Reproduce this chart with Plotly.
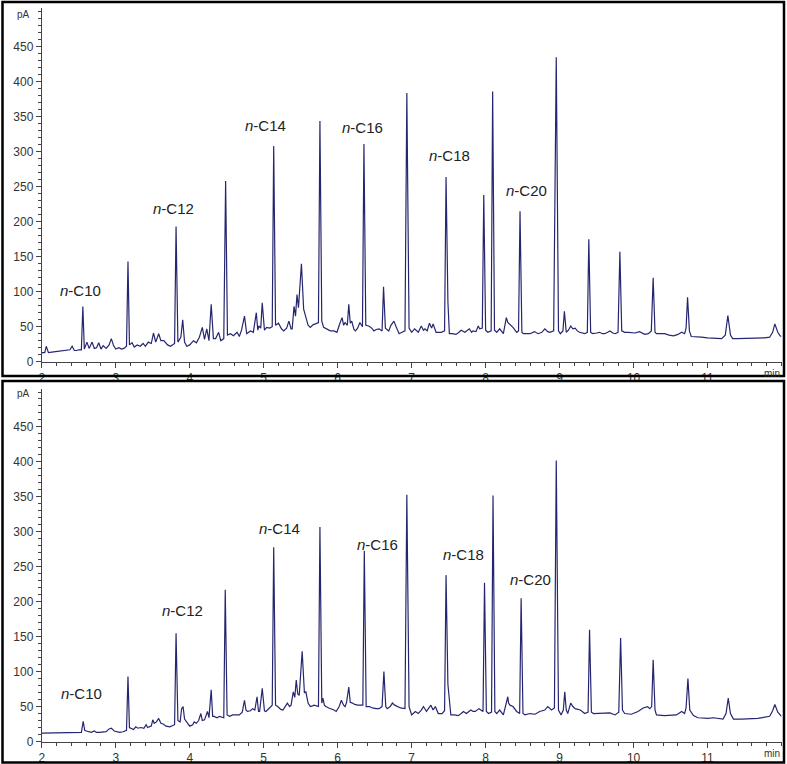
import plotly.graph_objects as go
from plotly.subplots import make_subplots

# retention time (min), signal (pA)
top_points = [
    (2.00, 13), (2.04, 13), (2.06, 22), (2.09, 13), (2.16, 14), (2.25, 15), (2.33, 16), (2.38, 17),
    (2.41, 22), (2.44, 16), (2.47, 16), (2.50, 17), (2.535, 17), (2.555, 79), (2.575, 18), (2.61, 28),
    (2.64, 19), (2.68, 28), (2.71, 19), (2.74, 20), (2.77, 27), (2.80, 18), (2.83, 23), (2.87, 19),
    (2.91, 24), (2.94, 33), (2.97, 23), (3.00, 18), (3.04, 20), (3.08, 18), (3.11, 19), (3.145, 22),
    (3.165, 143), (3.185, 24), (3.22, 27), (3.25, 21), (3.29, 24), (3.33, 22), (3.37, 26), (3.40, 22),
    (3.44, 28), (3.48, 26), (3.51, 41), (3.54, 28), (3.58, 40), (3.61, 30), (3.65, 30), (3.70, 24),
    (3.74, 22), (3.795, 26), (3.815, 193), (3.84, 28), (3.88, 35), (3.905, 60), (3.93, 28), (3.96, 22),
    (4.00, 24), (4.05, 30), (4.09, 27), (4.13, 35), (4.17, 49), (4.20, 32), (4.23, 47), (4.26, 30),
    (4.29, 82), (4.32, 33), (4.35, 33), (4.39, 42), (4.42, 30), (4.46, 33), (4.485, 258), (4.51, 38),
    (4.55, 40), (4.59, 37), (4.64, 42), (4.67, 36), (4.70, 45), (4.74, 65), (4.77, 40), (4.82, 44),
    (4.86, 42), (4.90, 70), (4.92, 45), (4.935, 51), (4.96, 48), (4.98, 84), (5.01, 45), (5.04, 49),
    (5.08, 48), (5.115, 50), (5.135, 308), (5.16, 52), (5.20, 55), (5.24, 47), (5.27, 44), (5.31, 48),
    (5.34, 58), (5.37, 47), (5.385, 47), (5.41, 79), (5.43, 65), (5.45, 96), (5.47, 77), (5.51, 140),
    (5.54, 75), (5.56, 68), (5.60, 52), (5.63, 49), (5.67, 53), (5.70, 54), (5.74, 56), (5.76, 344),
    (5.785, 58), (5.81, 49), (5.86, 46), (5.90, 44), (5.95, 44), (5.99, 42), (6.03, 55), (6.06, 63),
    (6.08, 52), (6.10, 56), (6.13, 52), (6.15, 82), (6.17, 55), (6.19, 58), (6.22, 46), (6.24, 44),
    (6.27, 48), (6.30, 56), (6.335, 50), (6.355, 311), (6.38, 52), (6.42, 51), (6.46, 48), (6.49, 44),
    (6.52, 46), (6.56, 47), (6.60, 44), (6.62, 107), (6.645, 48), (6.69, 44), (6.72, 52), (6.76, 58),
    (6.79, 50), (6.83, 40), (6.87, 42), (6.91, 44), (6.935, 384), (6.965, 48), (7.00, 42), (7.04, 47),
    (7.09, 42), (7.13, 51), (7.16, 45), (7.18, 47), (7.21, 44), (7.24, 55), (7.27, 48), (7.29, 54),
    (7.33, 42), (7.40, 42), (7.445, 44), (7.465, 264), (7.49, 86), (7.51, 40), (7.55, 40), (7.60, 39),
    (7.64, 42), (7.67, 45), (7.72, 42), (7.75, 44), (7.78, 47), (7.81, 42), (7.83, 44), (7.87, 43),
    (7.90, 51), (7.92, 47), (7.955, 48), (7.975, 238), (8.00, 45), (8.03, 42), (8.075, 44), (8.095, 386),
    (8.12, 45), (8.15, 42), (8.19, 47), (8.24, 40), (8.28, 63), (8.30, 56), (8.32, 54), (8.37, 49),
    (8.42, 42), (8.445, 44), (8.465, 215), (8.49, 42), (8.51, 40), (8.56, 40), (8.60, 40), (8.66, 43),
    (8.71, 40), (8.76, 42), (8.80, 47), (8.84, 43), (8.87, 42), (8.92, 44), (8.955, 435), (8.985, 44),
    (9.01, 40), (9.045, 44), (9.065, 72), (9.09, 42), (9.12, 45), (9.15, 51), (9.18, 47), (9.21, 48),
    (9.24, 44), (9.27, 42), (9.34, 40), (9.375, 42), (9.395, 175), (9.42, 42), (9.45, 40), (9.50, 41),
    (9.54, 42), (9.58, 40), (9.61, 40), (9.65, 42), (9.68, 44), (9.72, 41), (9.75, 40), (9.79, 42),
    (9.815, 157), (9.84, 44), (9.88, 42), (9.93, 42), (9.97, 42), (10.02, 41), (10.08, 43), (10.12, 40),
    (10.15, 39), (10.20, 40), (10.24, 44), (10.265, 120), (10.29, 42), (10.31, 40), (10.36, 40),
    (10.42, 40), (10.48, 38), (10.54, 37), (10.60, 39), (10.65, 42), (10.69, 40), (10.71, 48),
    (10.73, 92), (10.755, 44), (10.78, 36), (10.85, 35), (10.92, 35), (11.00, 34), (11.05, 34),
    (11.12, 33), (11.19, 33), (11.24, 38), (11.275, 66), (11.31, 38), (11.34, 33), (11.40, 33),
    (11.46, 33), (11.55, 33), (11.62, 33), (11.69, 33), (11.77, 34), (11.84, 35), (11.88, 42),
    (11.91, 54), (11.95, 42), (11.98, 37), (12.00, 36),
]

bottom_points = [
    (2.00, 12), (2.10, 12), (2.20, 12), (2.30, 12), (2.37, 12), (2.40, 13), (2.46, 13), (2.535, 13),
    (2.56, 29), (2.58, 16), (2.60, 15), (2.67, 13), (2.71, 15), (2.74, 13), (2.78, 13), (2.83, 14),
    (2.87, 14), (2.91, 18), (2.94, 19), (2.96, 17), (2.98, 15), (3.05, 13), (3.10, 14), (3.145, 16),
    (3.165, 93), (3.185, 20), (3.21, 19), (3.24, 17), (3.27, 21), (3.30, 19), (3.34, 20), (3.38, 19),
    (3.41, 24), (3.43, 20), (3.45, 21), (3.48, 22), (3.50, 31), (3.52, 26), (3.55, 28), (3.58, 33),
    (3.61, 26), (3.64, 25), (3.68, 22), (3.73, 21), (3.795, 24), (3.815, 155), (3.84, 30), (3.87, 28),
    (3.89, 47), (3.91, 50), (3.93, 32), (3.95, 29), (4.00, 22), (4.04, 24), (4.06, 28), (4.09, 26),
    (4.12, 30), (4.15, 40), (4.17, 30), (4.20, 31), (4.24, 43), (4.26, 34), (4.29, 74), (4.31, 36),
    (4.33, 36), (4.37, 34), (4.40, 36), (4.46, 34), (4.48, 217), (4.505, 38), (4.54, 36), (4.58, 38),
    (4.63, 38), (4.67, 38), (4.71, 42), (4.74, 59), (4.76, 45), (4.78, 43), (4.82, 44), (4.85, 47),
    (4.88, 45), (4.91, 64), (4.93, 43), (4.945, 43), (4.98, 76), (5.01, 44), (5.03, 43), (5.07, 48),
    (5.115, 52), (5.135, 278), (5.16, 52), (5.19, 50), (5.23, 46), (5.26, 45), (5.29, 50), (5.32, 55),
    (5.35, 50), (5.37, 52), (5.40, 71), (5.42, 63), (5.44, 88), (5.46, 68), (5.48, 66), (5.52, 129),
    (5.55, 70), (5.57, 71), (5.60, 55), (5.63, 50), (5.66, 51), (5.68, 52), (5.74, 50), (5.76, 307),
    (5.785, 55), (5.80, 62), (5.82, 52), (5.84, 50), (5.88, 48), (5.91, 47), (5.95, 45), (5.98, 43),
    (6.02, 50), (6.05, 59), (6.08, 52), (6.10, 50), (6.12, 56), (6.15, 78), (6.17, 56), (6.20, 55),
    (6.23, 53), (6.27, 52), (6.34, 52), (6.36, 273), (6.385, 50), (6.43, 50), (6.47, 48), (6.52, 47),
    (6.56, 47), (6.60, 50), (6.625, 100), (6.65, 50), (6.67, 47), (6.71, 50), (6.74, 55), (6.77, 52),
    (6.81, 50), (6.85, 48), (6.91, 47), (6.935, 353), (6.965, 50), (7.00, 38), (7.05, 43), (7.09, 40),
    (7.13, 45), (7.16, 50), (7.20, 43), (7.26, 52), (7.29, 45), (7.32, 50), (7.36, 40), (7.41, 40),
    (7.445, 44), (7.465, 238), (7.49, 82), (7.53, 38), (7.58, 38), (7.63, 37), (7.67, 40), (7.70, 43),
    (7.74, 40), (7.80, 45), (7.83, 43), (7.86, 43), (7.91, 47), (7.965, 43), (7.985, 227), (8.01, 43),
    (8.04, 40), (8.08, 42), (8.10, 352), (8.125, 43), (8.15, 40), (8.19, 45), (8.24, 38), (8.27, 50),
    (8.30, 64), (8.31, 55), (8.33, 52), (8.37, 50), (8.42, 43), (8.46, 40), (8.48, 205), (8.505, 40),
    (8.53, 38), (8.60, 40), (8.67, 39), (8.73, 43), (8.80, 45), (8.84, 50), (8.89, 45), (8.93, 48),
    (8.955, 402), (8.985, 45), (9.02, 38), (9.05, 45), (9.07, 71), (9.09, 45), (9.11, 40), (9.15, 55),
    (9.18, 50), (9.21, 47), (9.28, 45), (9.34, 40), (9.385, 42), (9.405, 160), (9.43, 42), (9.46, 40),
    (9.55, 40), (9.61, 41), (9.68, 41), (9.75, 38), (9.80, 42), (9.825, 148), (9.85, 45), (9.88, 40),
    (9.97, 39), (10.06, 43), (10.13, 48), (10.19, 50), (10.22, 47), (10.245, 50), (10.265, 117),
    (10.29, 45), (10.31, 38), (10.42, 37), (10.51, 37), (10.58, 38), (10.65, 43), (10.69, 40),
    (10.71, 48), (10.735, 90), (10.76, 45), (10.81, 37), (10.87, 34), (11.01, 33), (11.08, 34),
    (11.21, 32), (11.25, 40), (11.28, 62), (11.31, 40), (11.35, 32), (11.46, 32), (11.58, 33),
    (11.68, 33), (11.84, 36), (11.88, 44), (11.91, 53), (11.95, 42), (12.00, 36),
]

alkane_labels = ["n-C10", "n-C12", "n-C14", "n-C16", "n-C18", "n-C20"]
top_label_pos = [(2.52, 102), (3.78, 219), (5.02, 338), (6.33, 334), (7.51, 295), (8.55, 244)]
bottom_label_pos = [(2.54, 69), (3.90, 187), (5.22, 305), (6.54, 282), (7.70, 268), (8.60, 232)]

x_ticks = list(range(2, 12))
y_ticks = list(range(0, 451, 50))

W, H = 787, 764
LINE = "#262670"
FONT = "Liberation Sans, Arial, sans-serif"

fig = make_subplots(rows=2, cols=1)

for row, pts in [(1, top_points), (2, bottom_points)]:
    fig.add_trace(go.Scatter(x=[p[0] for p in pts], y=[p[1] for p in pts], mode="lines",
                             line=dict(color=LINE, width=1.2), showlegend=False,
                             hoverinfo="skip"), row=row, col=1)

# pixel positions of the two plot areas
x_dom = [41.8 / W, 781.5 / W]
top_dom = [(H - 361.7) / H, (H - 361.7 + 505 * 0.70) / H]
bot_dom = [(H - 741.5) / H, (H - 741.5 + 505 * 0.699) / H]

axis_common = dict(showgrid=False, zeroline=False, showline=True, linecolor="#444", linewidth=1,
                   ticks="outside", tickcolor="#444", ticklen=5, tickwidth=1, automargin=False,
                   tickfont=dict(family=FONT, size=12, color="#333"))

for i, dom in [(1, top_dom), (2, bot_dom)]:
    fig.update_xaxes(row=i, col=1, domain=x_dom, range=[2, 12], tickvals=x_ticks,
                     minor=dict(dtick=0.2, ticks="outside", ticklen=3, tickcolor="#444"),
                     **axis_common)
    fig.update_yaxes(row=i, col=1, domain=dom, range=[0, 505], tickvals=y_ticks,
                     minor=dict(dtick=10, ticks="outside", ticklen=3, tickcolor="#444"),
                     **axis_common)

annotations = []
for xref, yref, positions in [("x", "y", top_label_pos), ("x2", "y2", bottom_label_pos)]:
    for name, (lx, ly) in zip(alkane_labels, positions):
        text = "<i>n</i>-" + name.split("-")[1]
        annotations.append(dict(x=lx, y=ly, xref=xref, yref=yref, text=text, showarrow=False,
                                font=dict(family=FONT, size=15, color="#222")))
    annotations.append(dict(x=12, y=0, xref=xref, yref=yref, text="min", showarrow=False,
                            xanchor="right", yanchor="top", yshift=-4,
                            font=dict(family=FONT, size=10, color="#333")))
for py in [15, 394]:
    annotations.append(dict(x=23 / W, y=1 - py / H, xref="paper", yref="paper", text="pA",
                            xanchor="center", yanchor="middle", showarrow=False,
                            font=dict(family=FONT, size=10, color="#333")))

# black frames around each panel
shapes = []
for (y0, y1) in [(2, 376), (381, 762.5)]:
    shapes.append(dict(type="rect", xref="paper", yref="paper", x0=2.5 / W, x1=784 / W,
                       y0=1 - y1 / H, y1=1 - y0 / H, line=dict(color="black", width=2.5),
                       layer="above"))

fig.update_layout(width=W, height=H, margin=dict(l=0, r=0, t=0, b=0),
                  paper_bgcolor="white", plot_bgcolor="white",
                  annotations=annotations, shapes=shapes)

# drop the page's default body margin so the figure sits at the window's corner
fig.write_html("out.html", config={"displayModeBar": False},
               post_script="document.body.style.margin='0';document.body.style.overflow='hidden';")
